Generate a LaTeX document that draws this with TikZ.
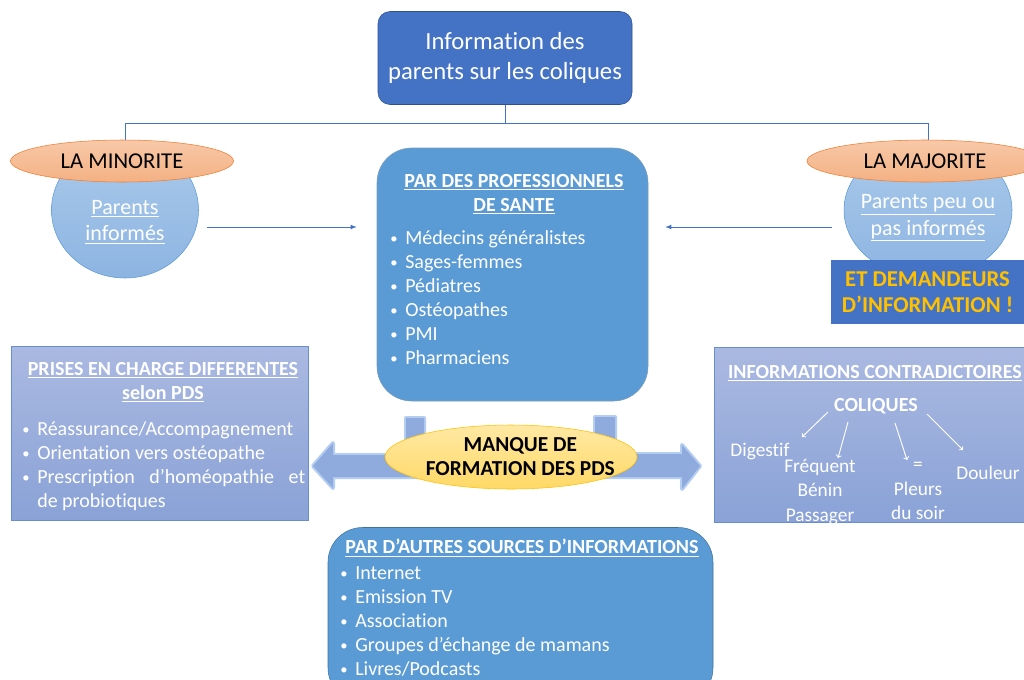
\documentclass[tikz,border=0pt]{standalone}
\usepackage{fontspec}
\setmainfont{Carlito}[Ligatures=NoCommon]
\usetikzlibrary{arrows, shapes, positioning, calc}
\definecolor{infoblue}{HTML}{4472C4}
\definecolor{infoline}{HTML}{2F528F}
\definecolor{problue}{HTML}{5B9BD5}
\definecolor{proline}{HTML}{41719C}
\definecolor{circtop}{HTML}{AACAEA}
\definecolor{circbot}{HTML}{8DB4E2}
\definecolor{lavtop}{HTML}{AAB9E1}
\definecolor{lavbot}{HTML}{8AA2D7}
\definecolor{tagfill}{HTML}{F4B183}
\definecolor{tagline}{HTML}{ED7D31}
\definecolor{gold}{HTML}{FFC000}
\definecolor{manquefill}{HTML}{FFD966}
\definecolor{arrowfill}{HTML}{8FAADC}
\definecolor{glowblue}{HTML}{B4CDF2}
\newcommand{\unitpx}{0.75pt}
\newcommand{\fs}[2]{\fontsize{#1}{#2}\selectfont}
\newcommand{\bul}{\makebox[11.25pt][l]{\raisebox{0.5pt}{\fs{11}{11}•}}}
\tikzset{info/.style = {
  rectangle, rounded corners=9pt,
  fill=infoblue, draw=infoline, text=white,
  align=center, font=\fs{18.5}{22.5},
  minimum width=254*\unitpx, minimum height=93*\unitpx
  }}
\tikzset{tree/.style = {draw=infoblue, thin}}
\tikzset{link/.style = {->, >=latex, draw=infoblue, semithick}}
\tikzset{coli/.style = {->, draw=white, line width=0.7pt}}
\tikzset{group/.style = {
  ellipse, inner sep=0pt,
  top color=circtop, bottom color=circbot, draw=problue
  }}
\tikzset{grouptext/.style = {
  inner sep=0pt, align=center, text=white, font=\fs{16.5}{20}
  }}
\tikzset{tag/.style = {
  ellipse, inner sep=0pt,
  top color=tagfill!70!white, bottom color=tagfill, draw=tagline,
  minimum height=42*\unitpx, font=\fs{17}{20}
  }}
\tikzset{pro/.style = {
  rectangle, rounded corners=26pt,
  fill=problue, draw=proline!70
  }}
\tikzset{side/.style = {
  rectangle, top color=lavtop, bottom color=lavbot, draw=infoblue!80
  }}
\tikzset{title/.style = {
  inner sep=0pt, align=center, text=white, font=\bfseries\fs{15}{18}
  }}
\tikzset{list/.style = {
  inner sep=0pt, align=left, text=white, font=\fs{15}{18}, anchor=north west
  }}
\tikzset{item/.style = {
  inner sep=0pt, align=center, text=white, font=\fs{14.5}{18.3}
  }}
\tikzset{bigarrow/.style = {
  fill=arrowfill, preaction={draw=glowblue, line width=3pt, line join=round}
  }}

\begin{document}
\begin{tikzpicture}[x=0.75pt, y=-0.75pt]

\clip (0,0) rectangle (1024,679);
\fill[white] (0,0) rectangle (1024,679);

	% Top of the tree
    \node (info) [info] at (505,58) {Information des\\parents sur les coliques};
    \node (mincircle) [group, minimum width=147*\unitpx, minimum height=136*\unitpx] at (125,210) {};
    \node (majcircle) [group, minimum width=168*\unitpx, minimum height=136*\unitpx] at (928,210) {};
    \draw [tree] (info.south) -- ++(0,18) coordinate (fork) -| (mincircle.north);
    \draw [tree] (fork) -| (majcircle.north);
    \node (mintext) [grouptext] at (125,222) {\underline{Parents}\\\underline{informés}};
    \node (majtext) [grouptext] at (928,218) {\underline{Parents peu ou}\\\underline{pas informés}};
    \node (minor) [tag, minimum width=223*\unitpx] at (122,161) {LA MINORITE};
    \node (major) [tag, minimum width=236*\unitpx] at (925,161) {LA MAJORITE};
    \node (demand) [rectangle, fill=infoblue, text=gold, align=center,
      font=\bfseries\fs{17}{19}, minimum width=193*\unitpx, minimum height=64*\unitpx]
      at (927.5,292) {ET DEMANDEURS\\D’INFORMATION !};

    % Health professionals
    \node (pro) [pro, minimum width=271*\unitpx, minimum height=253*\unitpx] at (512.5,274.5) {};
    \node (protitle) [title] at (514,194) {\underline{PAR DES PROFESSIONNELS}\\\underline{DE SANTE}};
    \node (prolist) [list] at (390,230) {\bul Médecins généralistes\\ \bul Sages-femmes\\
      \bul Pédiatres\\ \bul Ostéopathes\\ \bul PMI\\ \bul Pharmaciens};
    \draw [link] ([shift={(8,17)}]mincircle.east) -- ([shift={(-20,-47.5)}]pro.west);
    \draw [link] ([shift={(-12,17)}]majcircle.west) -- ([shift={(17,-47.5)}]pro.east);

    % Side boxes
    \node (prises) [side, minimum width=297*\unitpx, minimum height=174*\unitpx] at (159.5,433) {};
    \node (prisestitle) [title] at (163,382) {\underline{PRISES EN CHARGE DIFFERENTES}\\\underline{selon PDS}};
    \node (priseslist) [list] at (22,421) {\bul Réassurance/Accompagnement\\
      \bul Orientation vers ostéopathe\\
      \bul\makebox[201pt][s]{Prescription d’homéopathie et}\\
      \hspace*{11.25pt}de probiotiques};

    \node (contra) [side, minimum width=316*\unitpx, minimum height=175*\unitpx] at (872,434.5) {};
    \node (contratitle) [title] at (875,373) {\underline{INFORMATIONS CONTRADICTOIRES}};
    \node (coliques) [title] at (876,406) {COLIQUES};
    \node (digestif) [item] at (760,451) {Digestif};
    \node (frequent) [item] at (820,492) {Fréquent\\Bénin\\Passager};
    \node (pleurs) [item] at (918,491) {=\\Pleurs\\du soir};
    \node (douleur) [item] at (988,473) {Douleur};
    \foreach \dest/\sx/\sy/\ex/\ey in {digestif/-48/6/42/-14, frequent/-28/16/18/-34,
      pleurs/19/17/-11/-31, douleur/51/8/-25/-23}
      \draw [coli] ([shift={(\sx,\sy)}]coliques.center) -- ([shift={(\ex,\ey)}]\dest.center);

    % Lack of training
    \path [bigarrow] (313,466) -- (333,443) -- (333,455) -- (406,455) -- (406,418)
      -- (424,418) -- (424,455) -- (595,455) -- (595,417) -- (615,417) -- (615,454)
      -- (682,454) -- (682,445) -- (700,466) -- (682,489) -- (682,477) -- (333,477)
      -- (333,488) -- cycle;
    \node (manque) [ellipse, inner sep=0pt, top color=manquefill!60!white, bottom color=manquefill,
      draw=gold, minimum width=252*\unitpx, minimum height=64*\unitpx] at (511,457) {};
    \node (manquetext) [inner sep=0pt, align=center, font=\bfseries\fs{16}{18}]
      at ([xshift=7]manque.center) {MANQUE DE\\FORMATION DES PDS};

    % Other sources
    \node (other) [pro, draw=proline, minimum width=385*\unitpx, minimum height=175*\unitpx] at (520.5,615) {};
    \node (othertitle) [title] at (522,548) {\underline{PAR D’AUTRES SOURCES D’INFORMATIONS}};
    \node (otherlist) [list] at (340,566) {\bul Internet\\ \bul Emission TV\\ \bul Association\\
      \bul Groupes d’échange de mamans\\ \bul Livres/Podcasts};

\end{tikzpicture}
\end{document}
